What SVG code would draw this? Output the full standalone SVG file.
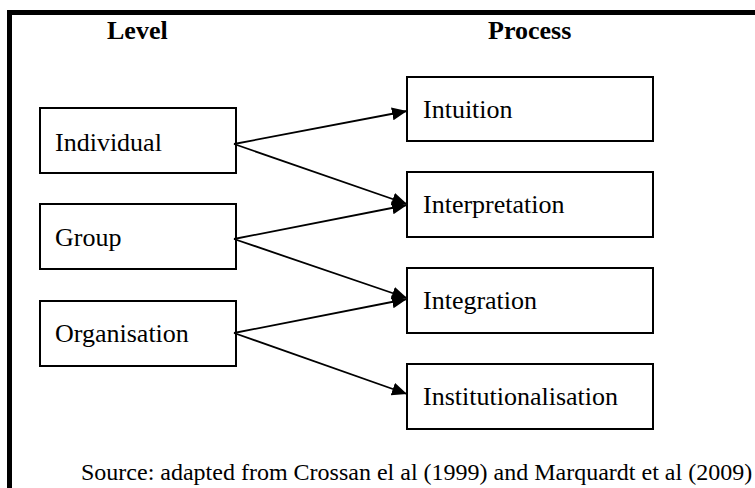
<svg xmlns="http://www.w3.org/2000/svg" width="755" height="488" viewBox="0 0 755 488">
<defs>
<style>
.box{fill:#fff;stroke:#000;stroke-width:2}
.lbl{font-family:"Liberation Serif","Times New Roman",serif;font-size:26px;fill:#000}
.hdr{font-family:"Liberation Serif","Times New Roman",serif;font-size:26px;font-weight:bold;fill:#000}
.src{font-family:"Liberation Serif","Times New Roman",serif;font-size:24px;fill:#000}
.con{stroke:#000;stroke-width:1.8;fill:none;marker-end:url(#ah)}
</style>
<marker id="ah" markerUnits="userSpaceOnUse" markerWidth="17" markerHeight="15" refX="15" refY="6.5" orient="auto">
<path d="M0,0 L15,6.5 L0,13 Z" fill="#000"/>
</marker>
</defs>
<rect width="755" height="488" fill="#fff"/>
<path d="M9.5,495 V12.5 H760" fill="none" stroke="#000" stroke-width="5"/>
<text class="hdr" x="107" y="39">Level</text>
<text class="hdr" x="488" y="39">Process</text>
<g id="individual"><rect class="box" x="40" y="108" width="196" height="65"/><text class="lbl" x="55" y="151">Individual</text></g>
<g id="group"><rect class="box" x="40" y="204" width="196" height="65"/><text class="lbl" x="55" y="246">Group</text></g>
<g id="organisation"><rect class="box" x="40" y="301" width="196" height="65"/><text class="lbl" x="55" y="342">Organisation</text></g>
<g id="intuition"><rect class="box" x="407" y="77" width="246" height="64"/><text class="lbl" x="423" y="118">Intuition</text></g>
<g id="interpretation"><rect class="box" x="407" y="172" width="246" height="65"/><text class="lbl" x="423" y="213">Interpretation</text></g>
<g id="integration"><rect class="box" x="407" y="268" width="246" height="65"/><text class="lbl" x="423" y="309">Integration</text></g>
<g id="institutionalisation"><rect class="box" x="407" y="364" width="246" height="65"/><text class="lbl" x="423" y="405">Institutionalisation</text></g>
<g id="connectors">
<line class="con" x1="234" y1="144" x2="407" y2="111"/>
<line class="con" x1="234" y1="144" x2="407" y2="204"/>
<line class="con" x1="234" y1="239" x2="407" y2="205"/>
<line class="con" x1="234" y1="239" x2="407" y2="298"/>
<line class="con" x1="234" y1="333" x2="407" y2="299"/>
<line class="con" x1="234" y1="333" x2="407" y2="394"/>
</g>
<text class="src" x="81" y="480">Source: adapted from Crossan el al (1999) and Marquardt et al (2009)</text>
</svg>
